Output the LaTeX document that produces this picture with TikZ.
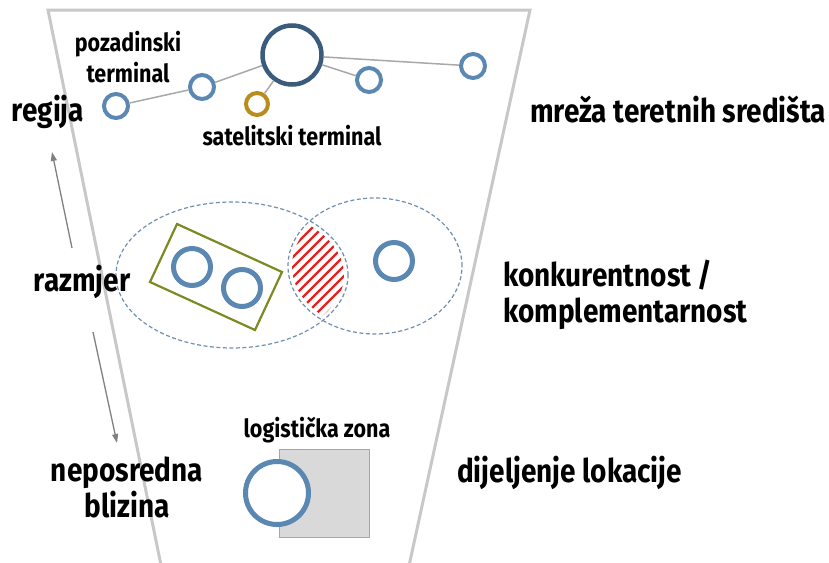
\documentclass[tikz,border=0pt]{standalone}
\usepackage{fontspec}
\setmainfont{Fira Sans}[FakeStretch=0.86]
\usetikzlibrary{arrows.meta}
\definecolor{cblue}{HTML}{5B87B3}
\definecolor{cdark}{HTML}{3B5B7C}
\definecolor{cgold}{HTML}{B98D1C}
\definecolor{colive}{HTML}{7B8B23}
\definecolor{cdash}{HTML}{6F8FB0}
\definecolor{cframe}{HTML}{C8C8C8}
\definecolor{clink}{HTML}{A8A8A8}
\definecolor{chatch}{HTML}{E52222}
\tikzset{
  term/.style={circle, draw=cblue, line width=4pt, minimum size=24pt, inner sep=0pt, fill=white},
  hub/.style={circle, draw=cdark, line width=4.5pt, minimum size=59pt, inner sep=0pt, fill=white},
  sat/.style={circle, draw=cgold, line width=4pt, minimum size=22pt, inner sep=0pt, fill=white},
  midterm/.style={circle, draw=cblue, line width=5pt, minimum size=37pt, inner sep=0pt},
  link/.style={draw=clink, line width=1.5pt},
  zone/.style={draw=cdash, line width=1.2pt, dash pattern=on 4pt off 2.5pt},
  biglabel/.style={font=\fontsize{32.5}{36}\selectfont\bfseries, inner sep=0pt, text=black},
  smalllabel/.style={font=\fontsize{25}{31}\selectfont\bfseries, inner sep=0pt, text=black},
  scalearrow/.style={draw=gray, line width=1.3pt, -{Triangle[length=9pt,width=6pt]}},
}
\begin{document}
\begin{tikzpicture}[x=1pt,y=-1pt]
\useasboundingbox (0,0) rectangle (829,562);
% frame
\draw[cframe, line width=3pt] (163,575) -- (48,10) -- (530,10) -- (407,575);
% top network
\node[hub] (hub) at (292,55) {};
\node[term] (t1) at (116,106) {};
\node[term] (t2) at (202,87) {};
\node[term] (t3) at (369,80) {};
\node[term] (t4) at (473,66) {};
\node[sat] (st) at (257,104) {};
\path[link] (t1) -- (t2);
\path[link] (t2) -- (hub);
\path[link] (hub) -- (t3);
\path[link] (hub) -- (t4);
\path[link] (hub) -- (st);
\node[smalllabel, align=center] (lpoz) at (128,57) {pozadinski\\terminal};
\node[smalllabel] (lsat) at (292,136) {satelitski terminal};
\node[biglabel] (lreg) at (48,112) {regija};
\node[biglabel, anchor=west] (lmreza) at (530,110) {mreža teretnih središta};
% middle
\begin{scope}
  \clip (232,275) ellipse [x radius=112pt, y radius=69pt];
  \clip (375,266) ellipse [x radius=83pt, y radius=64pt];
  \foreach \k in {0,...,24} \draw[chatch, line width=2.4pt] (270,190+\k*10) -- ++(100,-100);
\end{scope}
\draw[zone] (232,275) ellipse [x radius=116pt, y radius=73pt];
\draw[zone] (375,266) ellipse [x radius=87pt, y radius=68pt];
\draw[colive, line width=2.2pt] (177,224) -- (282,272) -- (255,330) -- (150,282) -- cycle;
\node[midterm] (m1) at (192,267) {};
\node[midterm] (m2) at (242,288) {};
\node[midterm] (m3) at (394,261) {};
\node[biglabel] (lraz) at (82,282) {razmjer};
\node[biglabel, anchor=west, align=left] (lkon) at (503,295) {konkurentnost /\\komplementarnost};
% arrows
\coordinate (aup1) at (72,248);
\coordinate (aup2) at (52,152);
\coordinate (adn1) at (93,332);
\coordinate (adn2) at (117,443);
\draw[scalearrow] (aup1) -- (aup2);
\draw[scalearrow] (adn1) -- (adn2);
% bottom
\node[draw=gray!70, fill=gray!30, line width=1pt, minimum width=90pt, minimum height=88pt, inner sep=0pt] (lz) at (324,493) {};
\node[circle, draw=cblue, line width=5pt, minimum size=63pt, inner sep=0pt, fill=white] (bc) at (277,493) {};
\node[smalllabel] (llog) at (317,430) {logistička zona};
\node[biglabel, align=center] (lnep) at (127,487) {neposredna\\blizina};
\node[biglabel, anchor=west] (ldij) at (457,473) {dijeljenje lokacije};
\end{tikzpicture}
\end{document}
